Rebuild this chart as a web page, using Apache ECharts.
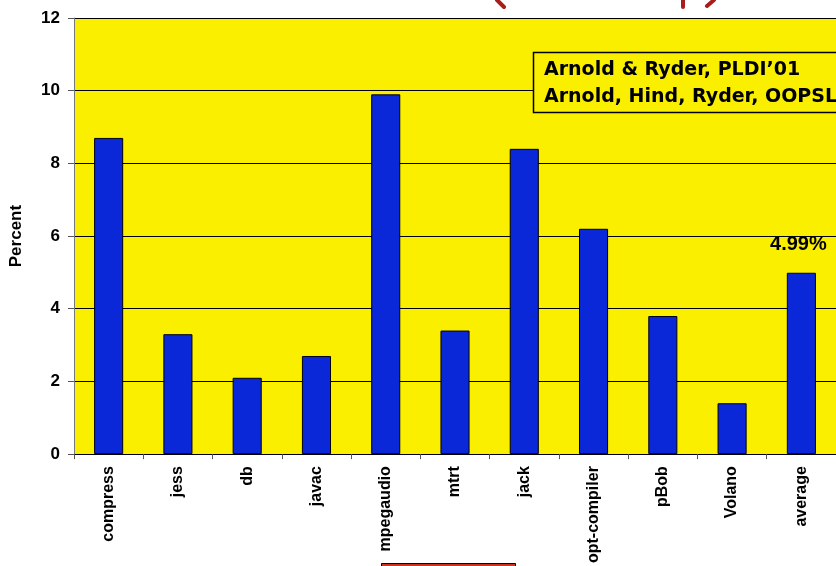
<!DOCTYPE html>
<html>
<head>
<meta charset="utf-8">
<script src="https://cdn.jsdelivr.net/npm/echarts@6/dist/echarts.min.js"></script>
<style>
  html, body { margin: 0; padding: 0; background: #fff; }
  #chart { width: 836px; height: 566px; }
</style>
</head>
<body>
<div id="chart"></div>
<script>
// benchmarks along the x axis
const benchmarks = ['compress', 'jess', 'db', 'javac', 'mpegaudio', 'mtrt', 'jack', 'opt-compiler', 'pBob', 'Volano', 'average'];
// overhead in percent
const percentValues = [8.7, 3.3, 2.1, 2.7, 9.9, 3.4, 8.4, 6.2, 3.8, 1.4, 4.99];
const yTicks = [0, 2, 4, 6, 8, 10, 12];
const refLines = ['Arnold & Ryder, PLDI\u201901', 'Arnold, Hind, Ryder, OOPSLA\u201902'];

const chart = echarts.init(document.getElementById('chart'));

const barData = percentValues.map((v, i) => {
  if (benchmarks[i] !== 'average') return v;
  return {
    value: v,
    label: {
      show: true,
      position: 'top',
      distance: 18,
      offset: [-3, 0],
      formatter: v.toFixed(2) + '%',
      fontFamily: 'Liberation Sans',
      fontWeight: 'bold',
      fontSize: 20,
      color: '#000'
    }
  };
});

const option = {
  animation: false,
  grid: {
    left: 74, top: 18, width: 770, bottom: 111,
    show: true, backgroundColor: '#fbef00', borderWidth: 0
  },
  xAxis: {
    type: 'category',
    data: benchmarks,
    axisLine: { lineStyle: { color: '#000', width: 1 } },
    axisTick: { show: true, length: 5, lineStyle: { color: '#555' } },
    axisLabel: {
      rotate: 90, margin: 12, interval: 0,
      fontFamily: 'Liberation Sans', fontWeight: 'bold', fontSize: 16, color: '#000'
    }
  },
  yAxis: {
    type: 'value',
    min: yTicks[0], max: yTicks[yTicks.length - 1], interval: 2,
    name: 'Percent',
    nameLocation: 'middle',
    nameGap: 49,
    nameRotate: 90,
    nameTextStyle: { fontFamily: 'Liberation Sans', fontWeight: 'bold', fontSize: 17, color: '#000' },
    axisLine: { show: true, lineStyle: { color: '#777', width: 1 } },
    axisTick: { show: true, length: 6, lineStyle: { color: '#555' } },
    axisLabel: {
      margin: 14,
      fontFamily: 'Liberation Sans', fontWeight: 'bold', fontSize: 17, color: '#000'
    },
    splitLine: { show: true, lineStyle: { color: '#000', width: 1 } }
  },
  series: [{
    type: 'bar',
    data: barData,
    barWidth: '42%',
    itemStyle: { color: '#0a28d8', borderColor: '#000', borderWidth: 1 }
  }],
  graphic: [
    {
      type: 'rect',
      shape: { x: 533.5, y: 52.5, width: 340, height: 60 },
      style: { fill: '#fbef00', stroke: '#000', lineWidth: 1.5 },
      z: 10
    },
    {
      type: 'text', left: 544, top: 57, z: 11,
      style: {
        text: refLines.join('\n'), lineHeight: 27,
        font: 'bold 19px "DejaVu Sans"', fill: '#000'
      }
    },
    // red scribbles cut off at the top edge
    { type: 'line', shape: { x1: 497, y1: 0, x2: 504, y2: 7 }, style: { stroke: '#a81c1c', lineWidth: 4, lineCap: 'round' }, z: 5 },
    { type: 'line', shape: { x1: 683, y1: 0, x2: 683, y2: 7 }, style: { stroke: '#a81c1c', lineWidth: 4, lineCap: 'round' }, z: 5 },
    { type: 'line', shape: { x1: 714, y1: 0, x2: 707, y2: 6 }, style: { stroke: '#a81c1c', lineWidth: 4, lineCap: 'round' }, z: 5 },
    // box cut off at the bottom edge
    {
      type: 'rect',
      shape: { x: 381.5, y: 563.5, width: 134, height: 10 },
      style: { fill: '#c8321e', stroke: '#000', lineWidth: 1 }, z: 5
    }
  ]
};

chart.setOption(option);
</script>
</body>
</html>
